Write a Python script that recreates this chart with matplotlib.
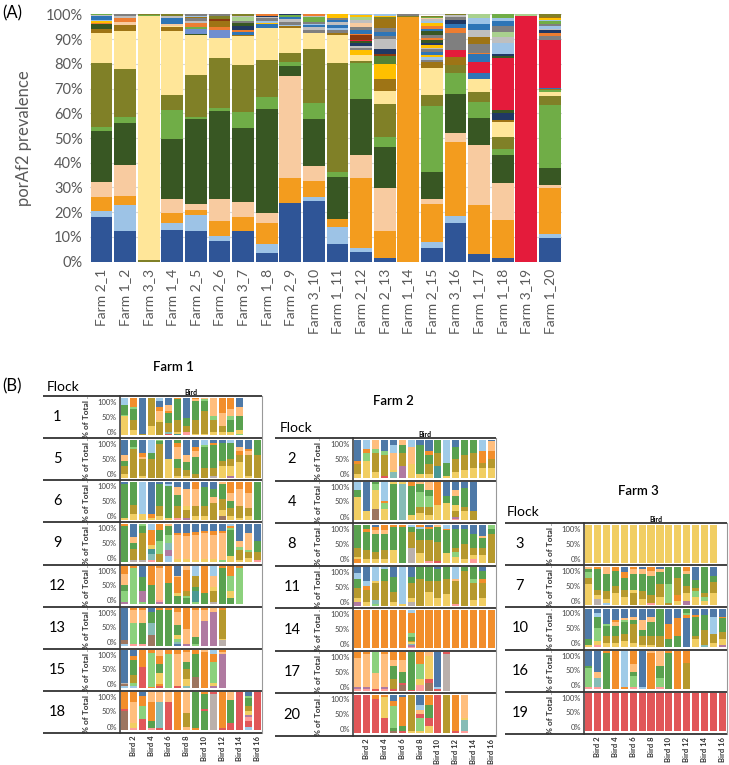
import matplotlib.pyplot as plt

plt.rcParams['font.family'] = ['Lato', 'DejaVu Sans']

W, H = 729, 765

# ---------------------------------------------------------------- panel A data
birds = ["Farm 2_1", "Farm 1_2", "Farm 3_3", "Farm 1_4", "Farm 2_5", "Farm 2_6",
         "Farm 3_7", "Farm 1_8", "Farm 2_9", "Farm 3_10", "Farm 1_11", "Farm 2_12",
         "Farm 2_13", "Farm 1_14", "Farm 2_15", "Farm 3_16", "Farm 1_17", "Farm 1_18",
         "Farm 3_19", "Farm 1_20"]

# main variants, stacked bottom -> top (% of reads)
dark_blue = [18.0, 12.6, 0, 12.8, 12.3, 8.4, 12.3, 3.4, 23.6, 24.7, 7.0, 3.8, 1.5, 0, 5.4, 15.5, 3.1, 1.3, 0, 9.4]
light_blue = [2.6, 10.2, 0, 3.0, 6.4, 2.0, 0, 3.6, 0, 1.6, 7.2, 1.7, 0, 0, 2.6, 3.0, 0, 0, 0, 1.6]
orange = [5.4, 3.9, 0, 4.0, 2.2, 5.9, 5.8, 8.8, 10.1, 6.2, 3.0, 28.5, 10.9, 98.8, 15.2, 29.7, 19.8, 15.5, 0, 18.6]
peach = [6.3, 12.3, 0, 5.5, 2.4, 9.2, 6.2, 4.0, 41.4, 6.2, 0, 9.1, 17.2, 0, 2.0, 4.0, 24.1, 14.9, 0, 1.6]
dark_green = [20.5, 16.9, 0, 24.2, 34.2, 35.5, 29.7, 41.9, 4.0, 18.8, 17.2, 22.7, 16.9, 0, 10.9, 15.5, 11.0, 11.4, 0, 6.8]
green = [1.8, 2.7, 0, 11.8, 0.9, 1.3, 6.4, 4.7, 1.6, 6.5, 2.0, 14.7, 3.8, 0, 27.0, 8.4, 6.4, 2.6, 0, 25.3]
olive = [25.6, 19.3, 0.5, 6.1, 17.1, 19.9, 19.0, 15.1, 3.5, 21.8, 44.1, 0.7, 13.4, 0, 4.2, 3.3, 4.2, 4.9, 0, 3.8]
pale_yellow = [12.4, 15.4, 98.8, 26.0, 16.1, 8.4, 11.7, 13.0, 10.3, 6.8, 11.1, 2.3, 5.4, 0, 11.1, 0, 5.4, 5.8, 0, 1.6]

# minor variants on top of each bar (code:height, bottom -> top)
minor = [
    "DO:1.4 DG:2.0 OR2:0.6 GD:0.6 LB:0.6 BL:1.4 SI:0.4 GR:0.4",
    "DO:2.2 PE:1.2 OR2:2.0 SI:0.8 GY:0.5",
    "GR:0.4 OL:0.3",
    "DO:1.4 LY:0.6 PE:0.8 BL:2.2 SI:1.0 OL:0.6",
    "DG:0.5 BL2:1.8 GR:1.0 OR2:1.4 SI:0.8 GY:1.3 DO:0.6 LB:0.5 GY:0.5",
    "BL2:2.9 OR2:1.3 DO:2.4 BR:0.8 OL:1.2 GY:0.8",
    "DO:0.6 BL:1.2 OR2:0.8 NV:1.5 DG:1.4 GY:0.8 LG:1.6 SI:0.5 OL:0.5",
    "BL:1.4 GD:0.6 LB:0.8 GY:1.2 SI:0.6 NV:0.4 OR2:0.5",
    "DO:0.6 LB:0.7 GY:1.2 SI:1.0 BL:1.0 GR:0.6 NV:0.4",
    "GY:1.0 SI:1.2 BL:0.8 LB:0.6 GY:0.6 GR:2.0 SI:0.4 OR2:0.8",
    "DO:1.0 GY:1.0 LB:0.8 BL:1.2 SI:1.4 BL:0.8 GY:0.8 GD:1.4",
    "GD:2.0 GY:0.8 SI:0.8 NV:1.5 DG:0.6 RD:0.4 BR:2.0 OR2:0.6 BL:1.4 GY:1.4 PE:1.5 SI:1.2 LG:1.1 GD:0.8 LB:0.4",
    "DO:4.8 GD:6.0 GRd:3.4 BR:0.8 NV:2.0 SI:4.0 GY:1.0 BL:1.8 GY:1.6 DO:3.6 OL:0.7 GD:0.6 LB:0.6",
    "OL:0.6 GY:0.6",
    "DO:2.5 GY:0.8 LB:1.0 GD:0.8 BL:1.2 GY:1.2 SI:0.6 GD:1.2 NV:0.8 DG:1.2 OR2:0.8 GY:1.0 DG:1.6 BL:1.0 OR2:1.0 GD:1.2 LB:0.8 SI:0.8 PE:0.6 GR:0.5 OL:0.2",
    "DO:3.2 RD:3.0 GY:7.0 OR2:2.0 BL:1.6 NV:1.6 GY:1.2 SI:0.6 OL:0.4",
    "BL:2.2 RD:4.7 BL:3.1 OR2:0.5 GY:3.4 DO:3.1 SI:2.7 BL:2.4 LB:2.3 LG:1.6",
    "DO:0.8 NV:2.8 DG:1.2 RD:21.2 DG:0.8 NV:0.8 LB:4.5 SI:2.5 LG:2.0 GY:2.4 BL:1.8 LB:1.2 GR:1.6",
    "RD:99.5 LG:0.5",
    "GR:0.6 DO:0.4 BL:0.6 RD:19.3 GY:1.8 OR2:1.2 NV:1.0 SI:0.6 LB:1.2 GY:0.8 GR:1.0 LB:0.6 GD:0.8 DO:0.5 OL:1.0",
]

A_COL = {"DB": "#2f5597", "LB": "#9dc3e6", "OR": "#f39c1e", "PE": "#f8cba0",
         "DG": "#385723", "GR": "#70ad47", "OL": "#808027", "LY": "#ffe699",
         "RD": "#e41b3b", "GY": "#7f7f7f", "SI": "#bfbfbf", "BR": "#8b3a0f",
         "GD": "#ffc000", "DO": "#9e7415", "BL": "#2e75b6", "BL2": "#6f8fd0",
         "NV": "#203864", "LG": "#a9d18e", "OR2": "#ed7d31", "GRd": "#548235"}

# ---------------------------------------------------------------- panel B data
# one string per bird, segments bottom -> top: colour letter + percent
f1_1 = ["Y50 g5 G25 b20", "Y15 K25 G30 g5 O25", "K5 B95", "Y25 K75", "K35 Y5 o25 O10 B15 b10",
        "R3 t5 K25 G25 O7 o15 B20", "T5 Y5 K30 G55 O5", "P10 K15 G20 B55", "Y5 K35 G50 o5 O5",
        "Y5 K60 G25 g5 o5", "Y10 K30 g10 o50", "Y10 K15 o35 O40", "Y10 G30 g10 o20 O30",
        "g5 Y10 G35 o25 B25"]
f1_5 = ["Y10 K20 G15 o15 B40", "K75 g5 G20", "Y5 K45 o5 O10 B35", "K50 G15 b35", "K88 G8 g4",
        "Y50 B50", "Y5 K20 G25 o30 O10 G10", "Y5 K15 G20 o20 B40", "K10 G45 o15 O10 B20",
        "K25 G55 g5 b15", "S5 K20 G60 O5 B10", "Y30 K15 G45 B10", "U5 Y25 K20 G40 b10",
        "Y40 K20 O10 o10 B20", "Y5 K55 o10 O5 B25", "K60 G40"]
f1_6 = ["Y5 G90 B5", "Y15 K25 G60", "Y15 b85", "Y5 O10 B85", "Y10 K25 G60 B5", "Y5 G85 b5 B5",
        "P5 K30 G30 o20 B15", "U5 K20 Y10 o45 B20", "Y10 K25 o45 O20", "Y10 K25 G50 B15",
        "K45 o15 G20 B20", "N10 Y15 K30 G40 o5", "Y10 K20 G20 o20 O30", "Y5 K30 o45 O20",
        "Y10 K20 o40 O30", "G100"]
f1_9 = ["G95 O5", "S5 K30 G15 o15 B35", "S5 K70 G20 g5", "P5 t15 T15 Y10 O40 b15",
        "K20 g35 G30 O15", "b15 U15 t20 g20 G25 o5", "Y8 o62 O5 B25", "Y8 o60 O7 B25",
        "Y6 o64 O8 B22", "Y8 o67 O5 B20", "Y8 o62 O10 B20", "g5 o70 O5 B20",
        "Y15 G70 g5 O5 b5", "Y5 K25 g10 o15 B45", "Y10 K15 g5 o45 B25", "P5 K20 G30 B45"]
f1_12 = ["U5 g30 G15 o30 O20", "g95 O5", "g5 U30 G35 B30", "G50 O50", "U5 P5 o85 O5",
         "G55 O45", "G20 Y10 O40 o5 B25", "G15 g5 K15 O55 o10", "g5 T30 G10 K30 b25",
         "G30 O70", "S5 K30 Y10 o30 b25", "G95 O5", "G15 Y20 g40 O25", "g95 O5"]
f1_13 = ["b5 N10 B85", "P5 g55 o35 O5", "P5 G55 o35 O5", "N30 t30 G30 B10", "G95 O5", "G95 O5",
         "B5 t5 g10 Y10 G25 o35 O10", "U5 o40 O55", "g5 G20 o70 O5", "U65 o30 O5", "U90 o10",
         "S15 Y5 K75 O5"]
f1_15 = ["b5 N5 S5 B85", "b5 g10 K20 G40 O10 B15", "R55 O45", "O3 g90 O7",
         "R5 O5 Y30 G25 O20 o15", "g90 O10", "R5 o85 O10", "t5 Y20 K25 G20 o25 O5",
         "N30 G60 O10", "O95 o5", "U5 Y10 g55 O20 b10", "U90 o5 O5"]
f1_18 = ["N50 R5 O45", "P5 Y15 o55 O25", "R30 g35 O25 B10", "P5 G20 O50 o25", "R5 t70 o25",
         "R75 o25", "O100", "o10 K35 o55", "O5 G95", "G50 R5 G40 O5", "S95 R5", "R5 O95",
         "R20 G60 o20", "R100", "b10 R15 P10 U5 Y10 K15 G20 g5 B10", "R100"]

f2_2 = ["Y10 K25 O10 B55", "Y45 g20 O10 b25", "Y15 K50 g10 o25", "R5 K55 g10 B30",
        "t15 Y5 o45 b20 B15", "U30 K35 G20 o15", "Y35 o45 b20", "Y10 G75 B15",
        "Y10 K25 G25 O10 B30", "T30 K35 G35", "Y5 G35 b60", "Y15 K35 G30 B20", "Y20 K40 G40",
        "Y25 K40 G35", "Y25 K15 O30 b30", "Y25 K25 O20 o25 B5"]
f2_4 = ["Y60 G20 b20", "Y25 B75", "N30 Y50 g15 G5", "Y30 g15 O5 b50", "G95 Y5", "t95 Y5",
        "Y15 G75 O10", "Y20 K15 g40 G20 o5", "Y15 K20 g30 G15 o20", "Y40 O60", "Y45 G20 B35",
        "P5 U5 K15 Y15 G25 o15 B20", "Y25 K10 G50 B15", "K25 B75"]
f2_8 = ["O10 Y5 K25 G60", "Y10 K25 G45 O10 G10", "Y10 K20 G45 o10 O10 B5", "Y10 K25 G40 o10 O15",
        "Y35 G60 O5", "G95 O5", "S40 K40 G15 b5", "Y25 K35 G30 b5 O5", "P5 K55 G30 O5 B5",
        "R5 K50 G40 o5", "Y25 G60 O5 b10", "Y15 g15 K10 G50 B10", "Y10 K40 G40 B10",
        "P10 Y10 K20 G35 B25", "Y20 K20 G25 o5 B30", "K75 G15 g10"]
f2_11 = ["U10 Y10 K25 G25 b15 B15", "Y10 K30 O10 b15 B35", "g5 t10 K45 Y5 b35", "K65 G30 b5",
         "Y10 K25 G40 B25", "Y5 b95", "S10 Y10 K40 G15 B25", "K70 G30", "Y35 K30 G35",
         "Y20 K45 G30 B5", "Y30 K40 G30", "P5 K60 o5 b30", "K90 G10", "Y15 K45 g10 G30",
         "Y20 K40 O10 G20 B10"]
f2_14 = ["O100", "O100", "O100", "O100", "O100", "O100", "P4 U4 t4 Y4 K4 G8 g12 O52 b8",
         "O100", "O100", "O100", "O100", "O100", "O100", "O100", "O100", "O100"]
f2_17 = ["P5 U5 o75 O15", "P5 U5 o85 O5", "R5 o40 g55", "P5 U5 o85 O5", "R5 K25 G35 o15 O20",
         "N15 R5 G30 o30 O20", "R3 G97", "P15 Y15 g40 O30", "N20 R10 Y60 o10", "R5 b5 B90",
         "S95 R5"]
f2_20 = ["R100", "R100", "R90 O10", "R40 Y55 O5", "N5 G10 g55 O15 B15", "R5 G15 O75 B5",
         "Y5 K95", "Y5 g35 R10 o10 b15 B25", "Y20 R20 G35 O25", "R100", "K100", "R5 O95",
         "P5 t30 Y5 o60"]

f3_3 = ["Y100"] * 15
f3_7 = ["Y55 K15 g15 G10 o5", "S15 Y10 K15 G55 O5", "b5 Y10 K20 G45 o20", "Y30 K20 G40 O10",
        "Y20 K20 G30 O15 B15", "K30 Y10 G40 o15 O5", "Y15 K20 G45 o15 B5", "P5 K20 G50 o15 O10",
        "Y20 K35 G30 o10 B5", "K5 g50 G45", "Y10 O15 K45 G30", "U10 Y20 K20 G30 o10 O10",
        "Y20 g15 K10 G20 B35", "Y10 g10 K10 G70", "Y30 K30 G15 B25"]
f3_10 = ["Y5 G15 B80", "P5 Y10 g35 G30 b10 B10", "Y10 K20 G25 g5 B40", "Y10 K20 G25 o10 O5 B30",
         "Y15 K20 G30 g5 o5 B25", "Y10 K50 G10 o10 B20", "Y5 K25 G15 o25 B30", "Y5 K25 G35 o15 B20",
         "K30 G70", "G20 O40 B40", "G30 O45 B25", "B75 O10 g5 G10", "Y20 K10 G50 O5 B15",
         "t5 K40 G40 B15", "Y10 K25 b45 B20", "U5 Y15 K20 G35 O5 B20"]
f3_16 = ["P5 g50 G5 B40", "P5 t25 o15 B55", "G95 O5", "O100", "O5 b95", "P5 g30 G10 o20 O35",
         "b5 B95", "O95 o5", "P5 g25 G30 o40", "G95 O5", "O100", "K70 O30"]
f3_19 = ["R100"] * 16

B_COL = {"B": "#4e79a7", "b": "#a0cbe8", "O": "#f28e2b", "o": "#ffbe7d", "G": "#59a14f",
         "g": "#8cd17d", "K": "#b6992d", "Y": "#f1ce63", "T": "#499894", "t": "#86bcb6",
         "R": "#e15759", "P": "#ff9d9a", "S": "#bab0ac", "U": "#b07aa1", "N": "#9d7660"}

farm1 = [("1", f1_1), ("5", f1_5), ("6", f1_6), ("9", f1_9), ("12", f1_12), ("13", f1_13),
         ("15", f1_15), ("18", f1_18)]
farm2 = [("2", f2_2), ("4", f2_4), ("8", f2_8), ("11", f2_11), ("14", f2_14), ("17", f2_17),
         ("20", f2_20)]
farm3 = [("3", f3_3), ("7", f3_7), ("10", f3_10), ("16", f3_16), ("19", f3_19)]


def px_axes(fig, x0, y0, x1, y1):
    return fig.add_axes([x0 / W, 1 - y1 / H, (x1 - x0) / W, (y1 - y0) / H])


fig = plt.figure(figsize=(W / 100, H / 100), dpi=100)

################################################################################
# Panel A
ax = px_axes(fig, 89.7, 14.3, 561.7, 261.7)
x = list(range(len(birds)))
bottom = [0.0] * len(birds)
for vals, c in [(dark_blue, "DB"), (light_blue, "LB"), (orange, "OR"), (peach, "PE"),
                (dark_green, "DG"), (green, "GR"), (olive, "OL"), (pale_yellow, "LY")]:
    ax.bar(x, vals, bottom=bottom, width=0.92, color=A_COL[c], zorder=2)
    bottom = [b + v for b, v in zip(bottom, vals)]
for i, spec in enumerate(minor):
    b = bottom[i]
    for tok in spec.split():
        code, h = tok.split(":")
        ax.bar(i, float(h), bottom=b, width=0.92, color=A_COL[code], zorder=2)
        b += float(h)

ax.set_xlim(-0.5, len(birds) - 0.5)
ax.set_ylim(0, 100)
ax.set_yticks(range(0, 101, 10))
ax.set_yticklabels([f"{v}%" for v in range(0, 101, 10)], fontsize=10.5, color="#595959")
ax.set_xticks(x)
ax.set_xticklabels(birds, rotation=90, fontsize=10, color="#595959")
ax.tick_params(length=0, pad=5)
ax.grid(axis="y", color="#d9d9d9", lw=0.8, zorder=0)
for s in ax.spines.values():
    s.set_visible(False)
ax.set_ylabel("porAf2 prevalence", fontsize=12, color="#595959", labelpad=10)

################################################################################
# Panel B
ov = fig.add_axes([0, 0, 1, 1], zorder=10)
ov.set_xlim(0, W)
ov.set_ylim(H, 0)
ov.axis("off")
ov.patch.set_alpha(0)

ov.text(2, 13, "(A)", fontsize=12, va="center", ha="left")
ov.text(2, 386, "(B)", fontsize=12, va="center", ha="left")

layouts = [
    dict(rows=farm1, title="Farm 1", tx=173, ty=367, fx=47, fy=387, left=43, numx=57.5, ylx=87,
         px0=120, px1=262, top=396, bot=733),
    dict(rows=farm2, title="Farm 2", tx=393, ty=401, fx=280, fy=428, left=275, numx=292, ylx=319,
         px0=353, px1=496, top=438, bot=736),
    dict(rows=farm3, title="Farm 3", tx=638, ty=491, fx=507, fy=512, left=505, numx=520, ylx=551,
         px0=584, px1=727, top=523, bot=734),
]

for L in layouts:
    n = len(L["rows"])
    rh = (L["bot"] - L["top"]) / n
    ov.text(L["tx"], L["ty"], L["title"], fontsize=9.5, ha="center", va="center", fontweight="semibold")
    ov.text(L["fx"], L["fy"], "Flock", fontsize=10, ha="left", va="center")
    ov.text((L["px0"] + L["px1"]) / 2, L["top"] - 4, "Bird", fontsize=5, ha="center", va="center",
            fontweight="bold")
    for r, (flock, bars) in enumerate(L["rows"]):
        y0 = L["top"] + r * rh
        y1 = y0 + rh
        a = px_axes(fig, L["px0"], y0, L["px1"], y1)
        for i, spec in enumerate(bars):
            b = 0.0
            for tok in spec.split():
                h = float(tok[1:])
                a.bar(i + 1, h, bottom=b, width=0.8, color=B_COL[tok[0]], lw=0)
                b += h
        a.set_xlim(0.5, 16.5)
        a.set_ylim(-7, 104)
        a.set_yticks([])
        a.tick_params(length=0, pad=2)
        for s in a.spines.values():
            s.set_visible(False)
        if r == n - 1:
            a.set_xticks(range(2, 17, 2))
            a.set_xticklabels([f"Bird {k}" for k in range(2, 17, 2)], rotation=90,
                              fontsize=5.5, fontweight="bold", color="#333333")
        else:
            a.set_xticks([])
        # axis labels of the small panel (Tableau places them slightly inside)
        for lab, yy in [("100%", y0 + 6.5), ("50%", (y0 + y1) / 2), ("0%", y1 - 6)]:
            ov.text(L["px0"] - 3, yy, lab, fontsize=5.5, ha="right", va="center", color="#444444")
        ov.text(L["numx"], (y0 + y1) / 2, flock, fontsize=10.5, ha="center", va="center")
        ov.text(L["ylx"], (y0 + y1) / 2, "% of Total .", fontsize=6, rotation=90, ha="center",
                va="center", fontweight="bold", color="#333333")
    # grid lines of the table
    for r in range(n + 1):
        yy = L["top"] + r * rh
        ov.plot([L["left"], L["px1"]], [yy, yy], color="#333333", lw=1.3, solid_capstyle="butt")
    ov.plot([L["px0"], L["px0"]], [L["top"], L["bot"]], color="#333333", lw=1.1)
    ov.plot([L["px1"], L["px1"]], [L["top"], L["bot"]], color="#999999", lw=0.8)

fig.savefig("out.png", dpi=100)
